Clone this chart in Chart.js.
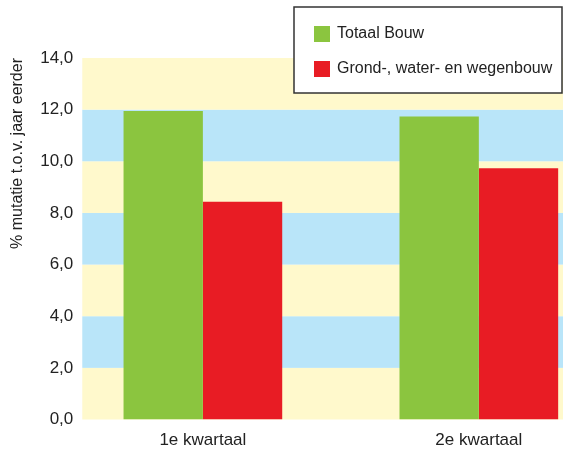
<!DOCTYPE html>
<html>
<head>
<meta charset="utf-8">
<script src="https://cdn.jsdelivr.net/npm/chart.js@4/dist/chart.umd.min.js"></script>
<style>
  html, body { margin: 0; padding: 0; background: #fff; overflow: hidden; }
  #wrap { width: 563px; height: 449px; position: relative; }
</style>
</head>
<body>
<div id="wrap"><canvas id="c"></canvas></div>
<script>
// Quarterly change in building production, % vs. one year earlier
const categories = ['1e kwartaal', '2e kwartaal'];
const totaalBouw = [11.95, 11.73];
const gwwBouw = [8.43, 9.73];
const seriesNames = ['Totaal Bouw', 'Grond-, water- en wegenbouw'];
const seriesColors = ['#8BC53F', '#E81C24'];
const yTicks = [0, 2, 4, 6, 8, 10, 12, 14];
const yTitle = '% mutatie t.o.v. jaar eerder';

const FONT = '"Liberation Sans", Arial, sans-serif';
const BAND_COLORS = ['#FFF9CC', '#B9E5F9'];

// Alternating horizontal bands behind the bars, one per tick interval
const bandPlugin = {
  id: 'bands',
  beforeDatasetsDraw(chart) {
    const { ctx, chartArea, scales } = chart;
    const y = scales.y;
    ctx.save();
    for (let i = 0; i < yTicks.length - 1; i++) {
      const top = y.getPixelForValue(yTicks[i + 1]);
      const bot = y.getPixelForValue(yTicks[i]);
      ctx.fillStyle = BAND_COLORS[i % 2];
      ctx.fillRect(chartArea.left, top, chartArea.right - chartArea.left, bot - top);
    }
    ctx.restore();
  }
};

// Boxed legend in the upper right corner, drawn over the plot
const legendBoxPlugin = {
  id: 'legendBox',
  afterDraw(chart) {
    const { ctx } = chart;
    const x0 = 294, y0 = 7, w = 268, h = 86;
    ctx.save();
    ctx.fillStyle = '#fff';
    ctx.fillRect(x0, y0, w, h);
    ctx.strokeStyle = '#333';
    ctx.lineWidth = 1.5;
    ctx.strokeRect(x0, y0, w, h);
    ctx.font = '16px ' + FONT;
    ctx.textBaseline = 'middle';
    seriesNames.forEach((name, i) => {
      const cy = y0 + 27 + i * 35;
      ctx.fillStyle = seriesColors[i];
      ctx.fillRect(x0 + 20, cy - 8, 16, 16);
      ctx.fillStyle = '#222';
      ctx.fillText(name, x0 + 43, cy);
    });
    ctx.restore();
  }
};

const datasets = [totaalBouw, gwwBouw].map((vals, s) => ({
  label: seriesNames[s],
  data: vals.map((v, i) => ({ x: i + 1, y: v })),
  backgroundColor: seriesColors[s],
  borderWidth: 0,
  categoryPercentage: 0.575,
  barPercentage: 1.0
}));

new Chart(document.getElementById('c'), {
  type: 'bar',
  data: { datasets },
  options: {
    responsive: true,
    maintainAspectRatio: false,
    animation: false,
    layout: { padding: { top: 58, right: 0, bottom: -12.5, left: 8 } },
    plugins: {
      legend: { display: false },
      tooltip: { enabled: false }
    },
    scales: {
      x: {
        type: 'linear',
        offset: false,
        min: 0.563,
        max: 2.305,
        grid: { display: false, drawTicks: false, offset: false },
        border: { display: false },
        afterBuildTicks(scale) {
          scale.ticks = categories.map((c, i) => ({ value: i + 1 }));
        },
        ticks: {
          callback: (v) => categories[Math.round(v) - 1] || '',
          color: '#222',
          font: { family: FONT, size: 17, lineHeight: 1 },
          padding: 12.5,
          maxRotation: 0,
          autoSkip: false
        }
      },
      y: {
        min: 0,
        max: 14,
        grid: { display: false, drawTicks: false },
        border: { display: false },
        afterBuildTicks(scale) {
          scale.ticks = yTicks.map(v => ({ value: v }));
        },
        ticks: {
          callback: (v) => v.toFixed(1).replace('.', ','),
          color: '#222',
          font: { family: FONT, size: 17 },
          padding: 9
        },
        title: {
          display: true,
          text: yTitle,
          align: 'end',
          color: '#222',
          font: { family: FONT, size: 16 },
          padding: { top: 0, bottom: 4 }
        }
      }
    }
  },
  plugins: [bandPlugin, legendBoxPlugin]
});
</script>
</body>
</html>
